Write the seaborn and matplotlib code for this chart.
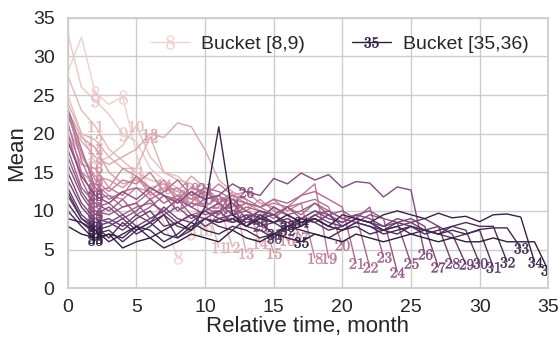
import numpy as np
import pandas as pd
import matplotlib
matplotlib.use("Agg")
import matplotlib.pyplot as plt
import seaborn as sns

# mean per relative month for each bucket [k, k+1); bucket k is observed for months 0..k
b08 = [28.0, 32.5, 25.3, 23.8, 24.8, 17.5, 12.0, 8.5, 4.0]
b09 = [33.0, 26.0, 24.3, 22.5, 20.0, 19.0, 15.5, 14.0, 13.0, 7.1]
b10 = [25.0, 20.0, 16.2, 17.0, 18.5, 21.0, 17.0, 15.0, 14.5, 13.0, 7.5]
b11 = [27.5, 23.0, 21.0, 18.0, 16.5, 15.0, 14.0, 13.5, 12.5, 12.0, 11.5, 5.3]
b12 = [24.0, 20.0, 19.2, 17.0, 15.5, 15.5, 19.6, 15.0, 14.0, 13.5, 12.0, 11.0, 5.3]
b13 = [22.0, 19.0, 17.0, 16.0, 17.0, 18.0, 20.0, 19.5, 21.4, 20.9, 17.9, 14.0, 12.5, 4.6]
b14 = [23.0, 19.5, 18.2, 15.0, 13.5, 14.0, 13.0, 13.5, 12.5, 14.5, 13.0, 11.0, 12.5, 11.5, 5.8]
b15 = [21.0, 17.0, 14.5, 14.0, 13.0, 14.5, 12.0, 13.0, 12.0, 11.5, 12.5, 11.0, 10.5, 11.0, 10.0,
       4.6]
b16 = [20.0, 16.0, 15.5, 13.0, 15.5, 14.5, 12.5, 11.0, 12.0, 11.0, 13.0, 11.5, 12.0, 12.5, 11.0,
       10.5, 6.2]
b17 = [19.0, 15.0, 13.5, 12.0, 11.5, 13.0, 12.5, 14.0, 11.0, 12.5, 10.5, 12.0, 11.0, 10.0, 11.5,
       10.0, 9.5, 6.6]
b18 = [22.5, 17.5, 14.0, 12.5, 14.0, 13.5, 15.0, 12.5, 13.0, 11.5, 12.0, 13.5, 12.0, 11.0, 10.5,
       11.5, 10.0, 11.0, 3.9]
b19 = [23.0, 16.5, 12.5, 13.0, 12.0, 14.5, 13.0, 12.0, 11.5, 13.0, 12.5, 11.0, 12.0, 11.5, 10.5,
       11.0, 10.5, 12.0, 13.5, 3.9]
b20 = [21.5, 15.0, 11.5, 12.0, 10.5, 11.0, 12.5, 11.0, 12.0, 10.5, 11.5, 12.0, 10.0, 11.0, 10.5,
       9.5, 10.5, 11.0, 11.5, 10.5, 5.6]
b21 = [23.3, 18.0, 13.0, 11.5, 12.5, 13.0, 11.5, 12.5, 14.0, 12.0, 13.0, 12.5, 11.5, 11.0, 10.5,
       11.5, 11.0, 12.0, 12.5, 11.5, 10.5, 3.2]
b22 = [20.0, 14.0, 10.5, 11.0, 9.5, 10.5, 11.0, 10.0, 11.5, 9.5, 10.0, 11.0, 9.5, 10.5, 10.0,
       9.0, 10.5, 9.5, 11.0, 10.0, 9.0, 9.5, 2.7]
b23 = [18.0, 13.0, 11.0, 10.0, 11.5, 9.5, 10.5, 12.0, 10.0, 11.0, 10.5, 9.5, 11.5, 10.0, 9.0,
       10.5, 9.5, 10.0, 11.0, 9.5, 10.0, 9.0, 10.5, 4.0]
b24 = [17.0, 12.5, 10.0, 9.5, 10.5, 11.0, 9.0, 10.0, 11.5, 10.5, 9.5, 10.0, 11.0, 9.0, 10.0,
       9.5, 10.5, 9.0, 10.0, 9.5, 8.5, 9.5, 10.0, 9.0, 2.1]
b25 = [16.0, 12.0, 9.5, 10.5, 9.0, 10.0, 11.5, 9.5, 10.5, 9.0, 10.0, 11.0, 9.5, 10.0, 9.0,
       10.5, 9.5, 8.5, 9.5, 10.0, 9.0, 8.5, 9.5, 9.0, 8.5, 3.2]
b26 = [19.0, 14.5, 12.0, 11.0, 12.5, 11.5, 13.0, 12.0, 11.0, 12.5, 11.5, 12.0, 13.5, 12.5, 12.0,
       14.2, 13.5, 14.9, 14.0, 14.7, 13.0, 13.8, 13.6, 11.8, 13.1, 12.7, 4.4]
b27 = [15.0, 11.0, 9.0, 8.5, 9.5, 8.0, 9.0, 10.0, 8.5, 9.5, 9.0, 10.0, 8.5, 9.0, 10.0,
       9.5, 8.5, 9.0, 10.0, 9.0, 8.5, 9.5, 9.0, 8.0, 8.5, 9.0, 8.0, 2.7]
b28 = [14.0, 10.5, 8.5, 9.0, 8.0, 9.5, 8.5, 10.5, 9.0, 8.5, 10.0, 9.0, 9.5, 8.5, 9.0,
       9.5, 8.0, 9.0, 8.5, 9.5, 8.0, 9.0, 8.5, 8.0, 9.0, 8.5, 9.0, 8.0, 3.2]
b29 = [13.0, 9.5, 8.0, 8.5, 7.5, 9.0, 10.0, 8.0, 8.5, 9.5, 8.0, 9.0, 8.5, 9.5, 8.0,
       8.5, 9.0, 8.0, 9.5, 8.5, 8.0, 9.0, 8.5, 7.5, 8.0, 8.5, 7.5, 8.0, 7.0, 3.1]
b30 = [12.5, 9.0, 7.5, 8.0, 9.0, 7.5, 8.5, 9.5, 8.0, 7.5, 9.0, 8.5, 9.0, 8.0, 7.5,
       6.5, 8.0, 8.5, 9.0, 8.0, 7.5, 8.5, 8.0, 7.5, 8.5, 8.0, 7.5, 7.0, 8.0, 7.5, 3.2]
b31 = [12.0, 9.0, 8.0, 6.5, 8.5, 7.0, 8.0, 9.5, 6.5, 7.5, 9.0, 8.0, 7.5, 9.0, 8.5,
       7.0, 8.0, 9.0, 8.5, 7.5, 8.0, 9.0, 8.5, 7.5, 7.0, 8.0, 7.5, 7.0, 6.5, 7.0, 7.5, 2.7]
b32 = [11.0, 8.5, 7.0, 7.5, 6.0, 7.5, 8.5, 7.0, 6.5, 8.0, 9.0, 8.5, 9.0, 8.0, 9.5,
       8.5, 7.5, 8.0, 9.0, 8.0, 7.5, 8.5, 8.0, 7.0, 7.5, 8.0, 7.0, 7.5, 8.0, 8.5, 8.0, 8.0, 3.4]
b33 = [10.0, 8.0, 6.2, 7.0, 6.5, 8.0, 7.5, 6.0, 7.0, 8.5, 7.5, 7.0, 8.0, 7.5, 6.5,
       7.0, 8.0, 7.5, 7.0, 6.5, 7.5, 8.0, 7.0, 7.5, 8.0, 7.0, 7.5, 7.0, 7.5, 7.0, 7.6, 7.8, 7.8,
       5.2]
b34 = [9.0, 8.5, 7.5, 6.0, 7.0, 8.0, 6.5, 7.5, 8.5, 7.5, 10.5, 20.9, 9.5, 8.0, 9.0,
       8.5, 9.5, 8.5, 9.0, 8.0, 9.5, 9.0, 8.5, 9.5, 10.0, 9.5, 9.0, 9.7, 9.1, 9.3, 8.6, 9.5, 9.6,
       9.2, 3.4]
b35 = [8.0, 7.0, 6.5, 7.0, 5.2, 6.0, 6.5, 5.2, 6.0, 7.0, 6.5, 6.0, 7.5, 6.5, 6.0,
       7.0, 6.5, 6.0, 7.0, 6.5, 6.0, 7.0, 6.5, 6.0, 6.5, 7.0, 6.5, 6.0, 6.5, 6.0, 6.0, 6.5, 6.0,
       6.0, 6.0, 2.3]

buckets = [b08, b09, b10, b11, b12, b13, b14, b15, b16, b17, b18, b19, b20, b21,
           b22, b23, b24, b25, b26, b27, b28, b29, b30, b31, b32, b33, b34, b35]
first_bucket = 8

sns.set_theme(style="whitegrid")
plt.rcParams["font.family"] = ["Liberation Sans", "DejaVu Sans"]
plt.rcParams["mathtext.fontset"] = "cm"

palette = sns.cubehelix_palette(len(buckets))

fig, ax = plt.subplots(figsize=(5.6, 3.43), dpi=100)
fig.subplots_adjust(left=0.121, right=0.979, top=0.948, bottom=0.160)

handles = []
for i, means in enumerate(buckets):
    k = first_bucket + i
    df = pd.DataFrame({"month": np.arange(len(means)), "mean": means})
    sns.lineplot(data=df, x="month", y="mean", ax=ax, color=palette[i],
                 linewidth=1.0, marker=f"${k}$", markersize=10,
                 markeredgewidth=0.3, markeredgecolor=palette[i],
                 markerfacecolor=palette[i], markevery=[2, k // 2, k])
    line = ax.get_lines()[-1]
    if i == 0 or i == len(buckets) - 1:
        handles.append((line, f"Bucket [{k},{k + 1})"))

ax.set_xlim(0, 35)
ax.set_ylim(0, 35)
ax.set_xticks(range(0, 36, 5))
ax.set_yticks(range(0, 36, 5))
ax.tick_params(labelsize=14)
ax.tick_params(axis="x", pad=2)
ax.set_xlabel("Relative time, month", fontsize=16, labelpad=0)
ax.set_ylabel("Mean", fontsize=16)

ax.legend([h for h, _ in handles], [l for _, l in handles], ncol=2,
          loc="upper right", bbox_to_anchor=(0.995, 1.0), frameon=False,
          fontsize=14, handlelength=2.0, handletextpad=0.6, columnspacing=2.4)

fig.savefig("out.png", dpi=100)
